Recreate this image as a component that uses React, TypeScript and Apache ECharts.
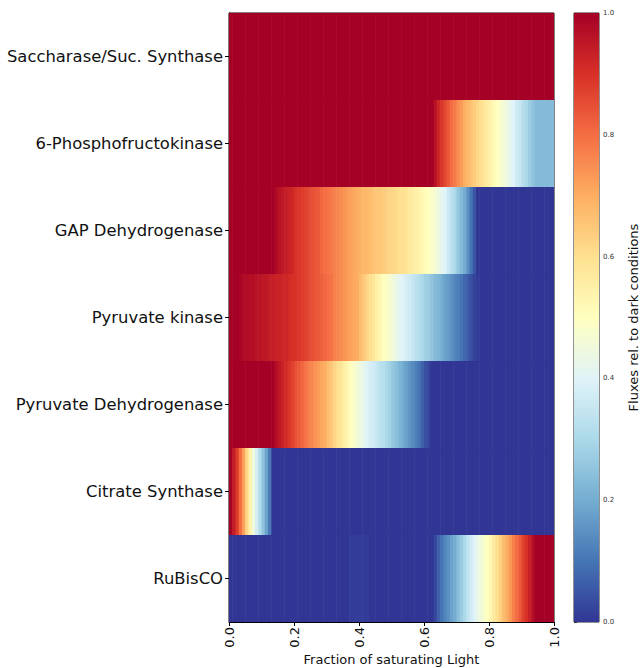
import React, { useEffect, useRef } from "react";
import * as echarts from "echarts";

const rowNames = [
  "Saccharase/Suc. Synthase",
  "6-Phosphofructokinase",
  "GAP Dehydrogenase",
  "Pyruvate kinase",
  "Pyruvate Dehydrogenase",
  "Citrate Synthase",
  "RuBisCO",
];

const xTickLabels = ["0.0", "0.2", "0.4", "0.6", "0.8", "1.0"];
const colorbarTickLabels = ["0.0", "0.2", "0.4", "0.6", "0.8", "1.0"];

const columnWidth = 0.01;

const sucValues = [
  1, 1, 1, 1, 1, 1, 1, 1, 1, 1,
  1, 1, 1, 1, 1, 1, 1, 1, 1, 1,
  1, 1, 1, 1, 1, 1, 1, 1, 1, 1,
  1, 1, 1, 1, 1, 1, 1, 1, 1, 1,
  1, 1, 1, 1, 1, 1, 1, 1, 1, 1,
  1, 1, 1, 1, 1, 1, 1, 1, 1, 1,
  1, 1, 1, 1, 1, 1, 1, 1, 1, 1,
  1, 1, 1, 1, 1, 1, 1, 1, 1, 1,
  1, 1, 1, 1, 1, 1, 1, 1, 1, 1,
  1, 1, 1, 1, 1, 1, 1, 1, 1, 1,
];

const pfkValues = [
  1, 1, 1, 1, 1, 1, 1, 1, 1, 1,
  1, 1, 1, 1, 1, 1, 1, 1, 1, 1,
  1, 1, 1, 1, 1, 1, 1, 1, 1, 1,
  1, 1, 1, 1, 1, 1, 1, 1, 1, 1,
  1, 1, 1, 1, 1, 1, 1, 1, 1, 1,
  1, 1, 1, 1, 1, 1, 1, 1, 1, 1,
  1, 1, 1, 0.96, 0.92, 0.89, 0.86, 0.83, 0.8, 0.78,
  0.75, 0.73, 0.7, 0.68, 0.66, 0.64, 0.62, 0.6, 0.58, 0.56,
  0.54, 0.52, 0.5, 0.48, 0.46, 0.44, 0.42, 0.4, 0.37, 0.35,
  0.32, 0.3, 0.27, 0.25, 0.23, 0.23, 0.23, 0.23, 0.23, 0.23,
];

const gapValues = [
  1, 1, 1, 1, 1, 1, 1, 1, 1, 1,
  1, 1, 1, 1, 0.98, 0.96, 0.95, 0.94, 0.93, 0.92,
  0.9, 0.89, 0.88, 0.87, 0.86, 0.85, 0.84, 0.83, 0.81, 0.8,
  0.79, 0.78, 0.77, 0.76, 0.75, 0.74, 0.73, 0.72, 0.71, 0.7,
  0.69, 0.68, 0.68, 0.67, 0.66, 0.65, 0.65, 0.64, 0.63, 0.62,
  0.62, 0.61, 0.6, 0.6, 0.59, 0.57, 0.56, 0.55, 0.54, 0.52,
  0.51, 0.5, 0.48, 0.46, 0.44, 0.42, 0.4, 0.36, 0.33, 0.3,
  0.26, 0.23, 0.2, 0.15, 0.1, 0.05, 0, 0, 0, 0,
  0, 0, 0, 0, 0, 0, 0, 0, 0, 0,
  0, 0, 0, 0, 0, 0, 0, 0, 0, 0,
];

const pkValues = [
  1, 1, 1, 0.99, 0.98, 0.98, 0.97, 0.97, 0.96, 0.96,
  0.95, 0.95, 0.94, 0.94, 0.93, 0.93, 0.92, 0.92, 0.91, 0.9,
  0.9, 0.89, 0.88, 0.87, 0.86, 0.85, 0.84, 0.83, 0.82, 0.81,
  0.8, 0.79, 0.77, 0.76, 0.75, 0.74, 0.73, 0.72, 0.71, 0.7,
  0.67, 0.65, 0.62, 0.6, 0.58, 0.55, 0.53, 0.5, 0.49, 0.47,
  0.45, 0.43, 0.41, 0.4, 0.38, 0.37, 0.35, 0.33, 0.32, 0.3,
  0.28, 0.27, 0.25, 0.23, 0.22, 0.2, 0.18, 0.17, 0.15, 0.13,
  0.12, 0.1, 0.08, 0.06, 0.04, 0.02, 0.01, 0, 0, 0,
  0, 0, 0, 0, 0, 0, 0, 0, 0, 0,
  0, 0, 0, 0, 0, 0, 0, 0, 0, 0,
];

const pdhValues = [
  1, 1, 1, 1, 1, 1, 1, 1, 1, 1,
  1, 1, 1, 1, 0.97, 0.95, 0.93, 0.91, 0.89, 0.87,
  0.85, 0.83, 0.81, 0.79, 0.77, 0.76, 0.74, 0.73, 0.71, 0.7,
  0.67, 0.65, 0.62, 0.6, 0.58, 0.55, 0.53, 0.5, 0.48, 0.46,
  0.44, 0.42, 0.4, 0.38, 0.37, 0.35, 0.33, 0.32, 0.3, 0.28,
  0.26, 0.24, 0.22, 0.2, 0.18, 0.16, 0.14, 0.12, 0.1, 0.07,
  0.04, 0.02, 0, 0, 0, 0, 0, 0, 0, 0,
  0, 0, 0, 0, 0, 0, 0, 0, 0, 0,
  0, 0, 0, 0, 0, 0, 0, 0, 0, 0,
  0, 0, 0, 0, 0, 0, 0, 0, 0, 0,
];

const csValues = [
  1, 0.94, 0.88, 0.8, 0.72, 0.62, 0.54, 0.45, 0.38, 0.31,
  0.25, 0.18, 0.11, 0, 0, 0, 0, 0, 0, 0,
  0, 0, 0, 0, 0, 0, 0, 0, 0, 0,
  0, 0, 0, 0, 0, 0, 0, 0, 0, 0,
  0, 0, 0, 0, 0, 0, 0, 0, 0, 0,
  0, 0, 0, 0, 0, 0, 0, 0, 0, 0,
  0, 0, 0, 0, 0, 0, 0, 0, 0, 0,
  0, 0, 0, 0, 0, 0, 0, 0, 0, 0,
  0, 0, 0, 0, 0, 0, 0, 0, 0, 0,
  0, 0, 0, 0, 0, 0, 0, 0, 0, 0,
];

const rubiscoValues = [
  0, 0, 0, 0, 0, 0, 0, 0, 0, 0,
  0, 0, 0, 0, 0, 0, 0, 0, 0, 0,
  0, 0, 0, 0, 0, 0, 0, 0, 0, 0,
  0, 0, 0, 0, 0, 0, 0, 0.01, 0.01, 0.01,
  0.01, 0.01, 0.01, 0, 0, 0, 0, 0, 0, 0,
  0, 0, 0, 0, 0, 0, 0, 0, 0, 0,
  0, 0, 0, 0.03, 0.07, 0.1, 0.13, 0.15, 0.18, 0.2,
  0.24, 0.27, 0.3, 0.34, 0.37, 0.4, 0.43, 0.45, 0.48, 0.5,
  0.53, 0.57, 0.6, 0.63, 0.67, 0.7, 0.73, 0.77, 0.8, 0.83,
  0.87, 0.9, 0.93, 0.97, 1, 1, 1, 1, 1, 1,
];

const rowValues = [sucValues, pfkValues, gapValues, pkValues, pdhValues, csValues, rubiscoValues];

// RdYlBu_r colormap stops (low -> high)
const cmap = [
  "#313695", "#4575b4", "#74add1", "#abd9e9", "#e0f3f8", "#ffffbf",
  "#fee090", "#fdae61", "#f46d43", "#d73027", "#a50026",
];

export default function App() {
  const ref = useRef<HTMLDivElement>(null);

  useEffect(() => {
    if (!ref.current) return;
    const chart = echarts.init(ref.current, undefined, { renderer: "svg" });

    const cells: number[][] = [];
    rowValues.forEach((vals, r) => {
      vals.forEach((v, c) => {
        cells.push([c * columnWidth, r, v]);
      });
    });

    const option: any = {
      animation: false,
      backgroundColor: "#ffffff",
      textStyle: { fontFamily: "DejaVu Sans" },
      grid: [
        {
          left: 229, top: 13, width: 325, height: 609,
          show: true, borderColor: "#000", borderWidth: 1,
          containLabel: false, outerBoundsMode: "none",
        },
        {
          left: 574, top: 13, width: 25, height: 609,
          show: true, borderColor: "#222", borderWidth: 1,
          containLabel: false, outerBoundsMode: "none",
        },
      ],
      visualMap: {
        type: "continuous",
        show: false,
        min: 0,
        max: 1,
        dimension: 2,
        seriesIndex: 0,
        inRange: { color: cmap },
      },
      xAxis: [
        {
          type: "value",
          gridIndex: 0,
          min: 0,
          max: 1,
          interval: 0.2,
          name: "Fraction of saturating Light",
          nameLocation: "middle",
          nameGap: 31,
          nameMoveOverlap: false,
          nameTextStyle: { fontSize: 13, color: "#111" },
          axisLine: { show: true, onZero: false, lineStyle: { color: "#000", width: 1 } },
          axisTick: { show: true, length: 4, lineStyle: { color: "#000" } },
          axisLabel: {
            rotate: 90,
            fontSize: 13,
            color: "#111",
            margin: 5,
            formatter: (v: number) => xTickLabels[Math.round(v / 0.2)] ?? "",
          },
          splitLine: { show: false },
        },
        {
          type: "value",
          gridIndex: 1,
          min: 0,
          max: 1,
          show: false,
        },
      ],
      yAxis: [
        {
          type: "category",
          gridIndex: 0,
          data: rowNames,
          inverse: true,
          axisLine: { show: true, lineStyle: { color: "#000", width: 1 } },
          axisTick: { show: true, alignWithLabel: true, length: 4, lineStyle: { color: "#000" } },
          axisLabel: { fontSize: 16.4, color: "#111", margin: 6 },
          splitLine: { show: false },
        },
        {
          type: "value",
          gridIndex: 1,
          min: 0,
          max: 1,
          interval: 0.2,
          position: "right",
          name: "Fluxes rel. to dark conditions",
          nameLocation: "middle",
          nameGap: 28,
          nameMoveOverlap: false,
          nameTextStyle: { fontSize: 13, color: "#111" },
          axisLine: { show: false },
          axisTick: { show: true, length: 3, lineStyle: { color: "#333" } },
          axisLabel: {
            fontSize: 7,
            color: "#333",
            margin: 4,
            formatter: (v: number) => colorbarTickLabels[Math.round(v / 0.2)] ?? "",
          },
          splitLine: { show: false },
        },
      ],
      series: [
        {
          type: "custom",
          xAxisIndex: 0,
          yAxisIndex: 0,
          clip: true,
          encode: { x: 0, y: 1 },
          data: cells,
          renderItem: (params: any, api: any) => {
            const x = api.value(0);
            const y = api.value(1);
            const p = api.coord([x, y]);
            const s = api.size([columnWidth, 1]);
            return {
              type: "rect",
              shape: { x: p[0], y: p[1] - s[1] / 2, width: s[0] + 0.6, height: s[1] + 0.6 },
              style: { fill: api.visual("color"), stroke: null },
            };
          },
        },
        {
          type: "custom",
          xAxisIndex: 1,
          yAxisIndex: 1,
          encode: { x: 0, y: 1 },
          data: [[0, 0, 1, 1]],
          renderItem: (params: any, api: any) => {
            const p0 = api.coord([0, 0]);
            const p1 = api.coord([1, 1]);
            const stops = cmap.map((c, i) => ({ offset: i / (cmap.length - 1), color: c }));
            return {
              type: "rect",
              shape: { x: p0[0], y: p1[1], width: p1[0] - p0[0], height: p0[1] - p1[1] },
              style: { fill: new echarts.graphic.LinearGradient(0, 1, 0, 0, stops), stroke: null },
            };
          },
        },
      ],
    };

    chart.setOption(option);
    return () => {
      chart.dispose();
    };
  }, []);

  return (
    <div
      ref={ref}
      style={{ position: "fixed", left: 0, top: 0, width: 640, height: 668 }}
    />
  );
}
